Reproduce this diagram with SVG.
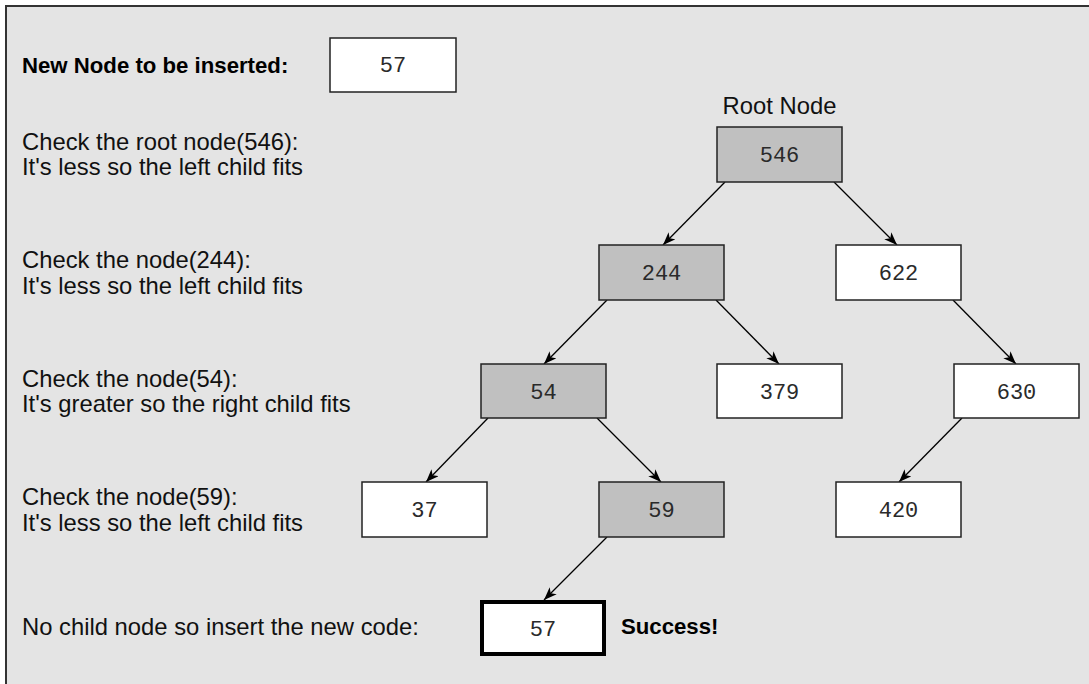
<svg xmlns="http://www.w3.org/2000/svg" width="1089" height="684" viewBox="0 0 1089 684">
<defs>
<style>
.lbl{font-family:"Liberation Sans",Arial,sans-serif;font-size:23.8px;fill:#111}
.bold{font-family:"Liberation Sans",Arial,sans-serif;font-size:22.2px;font-weight:bold;fill:#000}
.num{font-family:"Liberation Mono","Courier New",monospace;font-size:22px;fill:#2a2a2a;text-anchor:middle}
.box{fill:#fff;stroke:#222;stroke-width:1.5}
.gray{fill:#c0c0c0;stroke:#222;stroke-width:1.5}
.thick{fill:#fff;stroke:#000;stroke-width:4}
.edge{stroke:#000;stroke-width:1.3;fill:none;marker-end:url(#arr)}
</style>
<marker id="arr" markerUnits="userSpaceOnUse" markerWidth="14" markerHeight="12" refX="13" refY="5" orient="auto">
<path d="M0,0 L13,5 L0,10 L3.5,5 z" fill="#000"/>
</marker>
</defs>
<rect x="0" y="0" width="1089" height="684" fill="#fff"/>
<rect x="6" y="6" width="1100" height="700" fill="#e4e4e4" stroke="#333" stroke-width="2"/>

<g id="labels">
<text class="bold" x="22" y="73">New Node to be inserted:</text>
<text class="lbl" x="22" y="150">Check the root node(546):</text>
<text class="lbl" x="22" y="175">It's less so the left child fits</text>
<text class="lbl" x="22" y="268">Check the node(244):</text>
<text class="lbl" x="22" y="294">It's less so the left child fits</text>
<text class="lbl" x="22" y="387">Check the node(54):</text>
<text class="lbl" x="22" y="412">It's greater so the right child fits</text>
<text class="lbl" x="22" y="505">Check the node(59):</text>
<text class="lbl" x="22" y="531">It's less so the left child fits</text>
<text class="lbl" x="22" y="635">No child node so insert the new code:</text>
<text class="lbl" x="779.5" y="114" text-anchor="middle">Root Node</text>
<text class="bold" x="621" y="634">Success!</text>
</g>

<g id="connectors">
<line class="edge" x1="725" y1="182" x2="663" y2="245"/>
<line class="edge" x1="834" y1="182" x2="897" y2="245"/>
<line class="edge" x1="607" y1="300" x2="544" y2="364"/>
<line class="edge" x1="716" y1="300" x2="779" y2="364"/>
<line class="edge" x1="953" y1="300" x2="1016" y2="364"/>
<line class="edge" x1="488" y1="418" x2="426" y2="482"/>
<line class="edge" x1="597" y1="418" x2="661" y2="482"/>
<line class="edge" x1="962" y1="418" x2="899" y2="482"/>
<line class="edge" x1="607" y1="537" x2="544" y2="600"/>
</g>

<g id="node-new"><rect class="box" x="330" y="38" width="126" height="54"/><text class="num" x="393" y="72">57</text></g>
<g id="node-546"><rect class="gray" x="717" y="127" width="125" height="55"/><text class="num" x="779.5" y="162">546</text></g>
<g id="node-244"><rect class="gray" x="599" y="245" width="125" height="55"/><text class="num" x="661.5" y="280">244</text></g>
<g id="node-622"><rect class="box" x="836" y="245" width="125" height="55"/><text class="num" x="898.5" y="280">622</text></g>
<g id="node-54"><rect class="gray" x="481" y="364" width="125" height="54"/><text class="num" x="543.5" y="398.5">54</text></g>
<g id="node-379"><rect class="box" x="717" y="364" width="125" height="54"/><text class="num" x="779.5" y="398.5">379</text></g>
<g id="node-630"><rect class="box" x="954" y="364" width="125" height="54"/><text class="num" x="1016.5" y="398.5">630</text></g>
<g id="node-37"><rect class="box" x="362" y="482" width="125" height="55"/><text class="num" x="424.5" y="517">37</text></g>
<g id="node-59"><rect class="gray" x="599" y="482" width="125" height="55"/><text class="num" x="661.5" y="517">59</text></g>
<g id="node-420"><rect class="box" x="836" y="482" width="125" height="55"/><text class="num" x="898.5" y="517">420</text></g>
<g id="node-57"><rect class="thick" x="482" y="602" width="122" height="52"/><text class="num" x="543" y="635.5">57</text></g>
</svg>
